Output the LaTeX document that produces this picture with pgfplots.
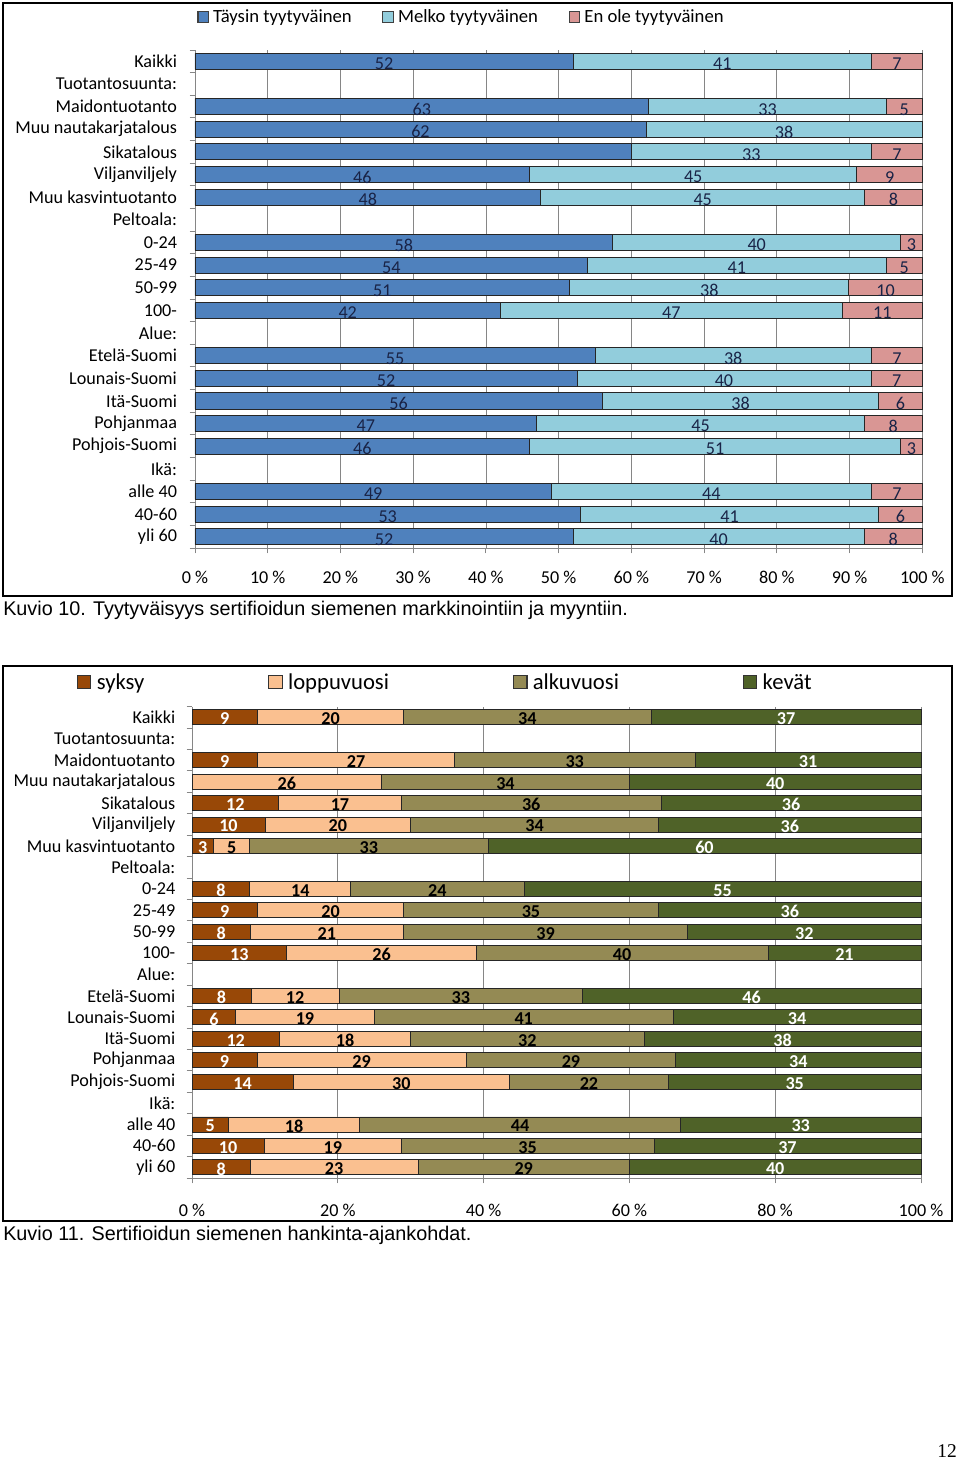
\documentclass[border=0pt]{standalone}
\usepackage{pgfplots}
\pgfplotsset{compat=1.18}
\usepackage{pgfplotstable}
\usepackage{fontspec}
\setmainfont{Carlito}
\newfontfamily\capfont{Liberation Sans}
\newfontfamily\pagefont{Liberation Serif}

\definecolor{cA}{RGB}{79,129,189}
\definecolor{cB}{RGB}{146,205,220}
\definecolor{cC}{RGB}{217,150,148}
\definecolor{dA}{RGB}{152,72,7}
\definecolor{dB}{RGB}{250,192,144}
\definecolor{dC}{RGB}{148,138,84}
\definecolor{dD}{RGB}{79,98,40}
\definecolor{labc}{RGB}{25,35,70}
\definecolor{gridc}{RGB}{134,134,134}

% Chart 1: y a b c sk (sk = segment whose label is not shown)
\pgfplotstableread{
y  a  b  c  sk
21 52 41 7  0
19 63 33 5  0
18 62 38 0  0
17 60 33 7  1
16 46 45 9  0
15 48 45 8  0
13 58 40 3  0
12 54 41 5  0
11 51 38 10 0
10 42 47 11 0
8  55 38 7  0
7  52 40 7  0
6  56 38 6  0
5  47 45 8  0
4  46 51 3  0
2  49 44 7  0
1  53 41 6  0
0  52 40 8  0
}\tabA
\pgfplotstablecreatecol[expr={100*\thisrow{a}/(\thisrow{a}+\thisrow{b}+\thisrow{c})}]{na}\tabA
\pgfplotstablecreatecol[expr={100*\thisrow{b}/(\thisrow{a}+\thisrow{b}+\thisrow{c})}]{nb}\tabA
\pgfplotstablecreatecol[expr={100*\thisrow{c}/(\thisrow{a}+\thisrow{b}+\thisrow{c})}]{nc}\tabA

% Chart 2: y a b c d sk
\pgfplotstableread{
y  a  b  c  d  sk
21 9  20 34 37 0
19 9  27 33 31 0
18 0  26 34 40 1
17 12 17 36 36 0
16 10 20 34 36 0
15 3  5  33 60 0
13 8  14 24 55 0
12 9  20 35 36 0
11 8  21 39 32 0
10 13 26 40 21 0
8  8  12 33 46 0
7  6  19 41 34 0
6  12 18 32 38 0
5  9  29 29 34 0
4  14 30 22 35 0
2  5  18 44 33 0
1  10 19 35 37 0
0  8  23 29 40 0
}\tabB
\pgfplotstablecreatecol[expr={100*\thisrow{a}/(\thisrow{a}+\thisrow{b}+\thisrow{c}+\thisrow{d})}]{na}\tabB
\pgfplotstablecreatecol[expr={100*\thisrow{b}/(\thisrow{a}+\thisrow{b}+\thisrow{c}+\thisrow{d})}]{nb}\tabB
\pgfplotstablecreatecol[expr={100*\thisrow{c}/(\thisrow{a}+\thisrow{b}+\thisrow{c}+\thisrow{d})}]{nc}\tabB
\pgfplotstablecreatecol[expr={100*\thisrow{d}/(\thisrow{a}+\thisrow{b}+\thisrow{c}+\thisrow{d})}]{nd}\tabB

\pgfplotsset{
  common/.style={
    scale only axis, anchor=north west,
    xbar stacked, clip=false,
    xmin=0, xmax=100, ymin=-0.5, ymax=21.5,
    enlargelimits=false,
    axis x line*=bottom, axis y line*=left,
    axis line style={gridc, line width=0.7pt},
    xmajorgrids, grid style={gridc, line width=0.6pt},
    tick align=outside, major tick length=0pt, minor tick length=4pt,
    minor tick style={gridc, line width=0.7pt},
    minor ytick={-0.5,0.5,...,21.5},
    ytick={0,...,21},
    yticklabels={yli 60,40-60,alle 40,Ikä:,Pohjois-Suomi,Pohjanmaa,Itä-Suomi,Lounais-Suomi,Etelä-Suomi,Alue:,100-,50-99,25-49,0-24,Peltoala:,Muu kasvintuotanto,Viljanviljely,Sikatalous,Muu nautakarjatalous,Maidontuotanto,Tuotantosuunta:,Kaikki},
    tick label style={font=\fontsize{13.6}{15}\selectfont, text=black},
    legend cell align=left,
    /pgf/number format/assume math mode=true,
  },
  % args: value col, index, node style  (stacked nodes are centred in their segment)
  seg/.style n args={3}{%
    visualization depends on={\thisrow{#1} \as \lbl},
    visualization depends on={\thisrow{sk} \as \skp},
    nodes near coords={\ifdim\skp pt=#2pt \else\pgfmathprintnumber[assume math mode=true]{\lbl}\fi},
    every node near coord/.style={anchor=center, inner sep=0pt, #3},
  },
}

\begin{document}
\begin{tikzpicture}
\begin{scope}[x=0.75pt, y=-0.75pt]
  \useasboundingbox (0,0) rectangle (960,1459);
  \draw[line width=1.3pt] (3,3) rectangle (952,596);
  \draw[line width=1.3pt] (3,666) rectangle (952,1221);
  \node[anchor=west, inner sep=0pt, font=\capfont\fontsize{14.85}{16}\selectfont] at (3,610.5) {Kuvio 10. Tyytyväisyys sertifioidun siemenen markkinointiin ja myyntiin.};
  \node[anchor=west, inner sep=0pt, font=\capfont\fontsize{14.85}{16}\selectfont] at (3,1235.5) {Kuvio 11. Sertifioidun siemenen hankinta-ajankohdat.};
  \node[anchor=east, inner sep=0pt, font=\pagefont\fontsize{14.6}{16}\selectfont] at (957,1451) {12};
\end{scope}

% ---------- Chart 1 ----------
\begin{axis}[common,
  at={(146.25pt,-37.5pt)}, width=545.5pt, height=373.5pt,
  bar width=0.71,
  xtick={0,10,...,100}, minor xtick={0,10,...,100},
  xticklabels={0 \%,10 \%,20 \%,30 \%,40 \%,50 \%,60 \%,70 \%,80 \%,90 \%,100 \%},
  xticklabel style={yshift=-13.5pt},
  yticklabel style={xshift=-10pt},
  legend columns=3,
  legend image code/.code={\draw[#1, draw=black!75, line width=0.8pt] (0pt,-4pt) rectangle (8pt,4pt);},
  legend style={at={(0.003,1.066)}, anchor=west, draw=none, fill=none, inner sep=0pt,
    font=\fontsize{14}{15}\selectfont,
    /tikz/every even column/.append style={column sep=21pt},
    /tikz/every odd column/.append style={column sep=1pt}},
]
\addplot[fill=cA, draw=black!85, line width=0.6pt,
  seg={a}{1}{text=labc, yshift=-2pt, font=\fontsize{13.6}{15}\selectfont}]
  table[x=na, y=y]{\tabA};
\addplot[fill=cB, draw=black!85, line width=0.6pt,
  seg={b}{2}{text=labc, yshift=-2pt, font=\fontsize{13.6}{15}\selectfont}]
  table[x=nb, y=y]{\tabA};
\addplot[fill=cC, draw=black!85, line width=0.6pt,
  seg={c}{3}{text=labc, yshift=-2pt, font=\fontsize{13.6}{15}\selectfont}]
  table[x=nc, y=y]{\tabA};
\legend{Täysin tyytyväinen, Melko tyytyväinen, En ole tyytyväinen}
\end{axis}

% ---------- Chart 2 ----------
\begin{axis}[common,
  at={(144pt,-530pt)}, width=546.75pt, height=353.5pt,
  bar width=0.70,
  xtick={0,20,...,100}, minor xtick={0,20,...,100},
  xticklabels={0 \%,20 \%,40 \%,60 \%,80 \%,100 \%},
  xticklabel style={yshift=-16pt},
  yticklabel style={xshift=-9pt},
  legend columns=4,
  legend style={at={(-0.158,1.052)}, anchor=west, draw=none, fill=none, inner sep=0pt,
    font=\fontsize{17}{19}\selectfont,
    /tikz/every even column/.append style={column sep=91pt},
    /tikz/every odd column/.append style={column sep=2pt}},
  legend image code/.code={\draw[#1, draw=black!80, line width=0.8pt] (0pt,-5pt) rectangle (10pt,5pt);},
]
\addplot[fill=dA, draw=black!85, line width=0.6pt,
  seg={a}{1}{text=white, yshift=-1.2pt, font=\bfseries\fontsize{13.6}{15}\selectfont}]
  table[x=na, y=y]{\tabB};
\addplot[fill=dB, draw=black!85, line width=0.6pt,
  seg={b}{2}{text=black, yshift=-1.2pt, font=\bfseries\fontsize{13.6}{15}\selectfont}]
  table[x=nb, y=y]{\tabB};
\addplot[fill=dC, draw=black!85, line width=0.6pt,
  seg={c}{3}{text=black, yshift=-1.2pt, font=\bfseries\fontsize{13.6}{15}\selectfont}]
  table[x=nc, y=y]{\tabB};
\addplot[fill=dD, draw=black!85, line width=0.6pt,
  seg={d}{4}{text=white, yshift=-1.2pt, font=\bfseries\fontsize{13.6}{15}\selectfont}]
  table[x=nd, y=y]{\tabB};
\legend{syksy, loppuvuosi, alkuvuosi, kevät}
\end{axis}
\end{tikzpicture}
\end{document}
